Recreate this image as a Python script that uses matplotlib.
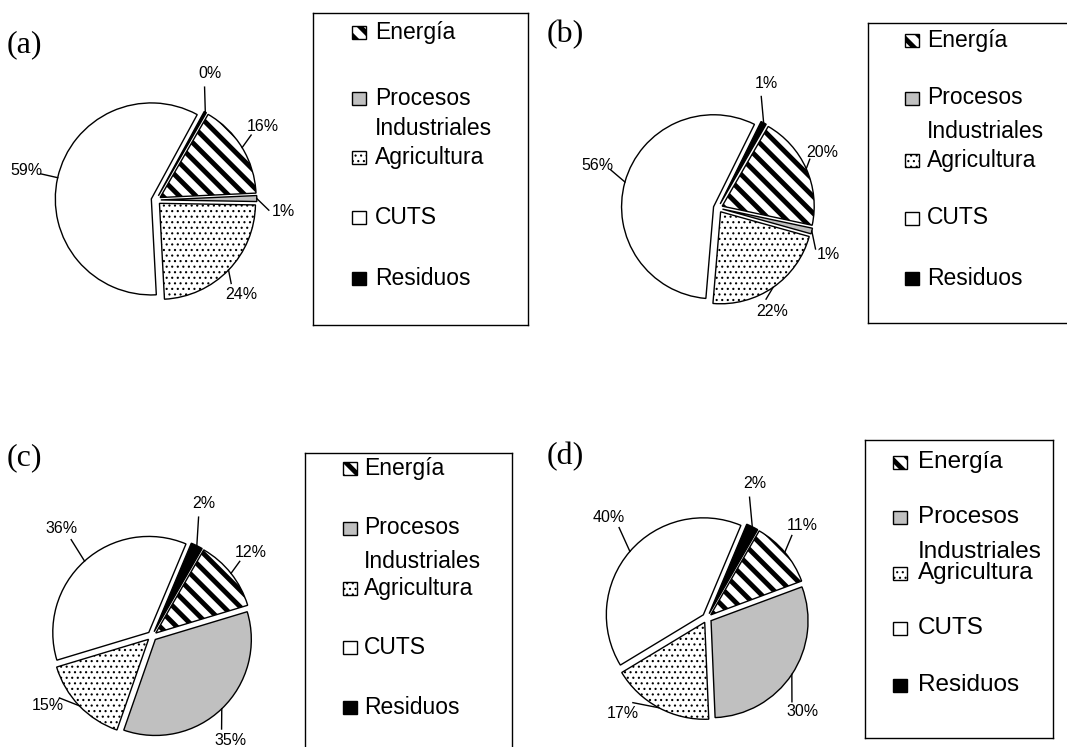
import matplotlib
matplotlib.use("Agg")
import matplotlib.pyplot as plt
import numpy as np
from matplotlib.patches import Rectangle

W, H = 1067, 747

# data: share of emissions by sector for each panel (a)-(d)
panels = ["(a)", "(b)", "(c)", "(d)"]
sectors = ["Energía", "Procesos\nIndustriales", "Agricultura", "CUTS", "Residuos"]
energia = [16, 20, 12, 11]
procesos = [1, 1, 35, 30]
agricultura = [24, 22, 15, 17]
cuts = [59, 56, 36, 40]
residuos = [0.4, 1, 2, 2]

# styles
fills = ["white", "#c0c0c0", "white", "white", "black"]
hatches = ["\\\\", None, "...", None, None]
hatch_lw = [3.5, 1.0, 0.8, 1.0, 1.0]

# layout (pixels): pie centre and radius, legend box, marker x, text x, item ys
pie_pos = [(156, 200, 96), (718, 208, 92), (152, 636, 96), (707, 618, 97)]
tag_pos = [(7, 45), (547, 35), (7, 458), (547, 457)]
leg_box = [(313, 13, 528, 325), (868, 23, 1090, 323),
           (305, 453, 512, 770), (865, 440, 1053, 738)]
leg_mx = [352, 905, 343, 893]
leg_tx = [375, 927, 364, 918]
leg_ys = [[32, 98, 128, 157, 217, 278], [40, 98, 132, 160, 218, 278],
          [468, 528, 562, 588, 647, 707], [462, 517, 552, 573, 628, 685]]
leg_fs = [16.5, 16.5, 16.5, 17.5]
# label placement: angle nudge (deg, clockwise) and radius per slice
lab_nudge = [[-3, 6, 4, 0, -6], [-4, 9, 7, 4, -7], [-2, 7, 10, 2, -5], [-4, 11, 13, 5, -7]]
lab_rad = [[1.35, 1.33, 1.32, 1.38, 1.43], [1.28, 1.3, 1.27, 1.39, 1.45],
           [1.35, 1.36, 1.31, 1.46, 1.48], [1.37, 1.38, 1.31, 1.45, 1.47]]

fig = plt.figure(figsize=(W / 100, H / 100), dpi=100)

start = 30  # degrees clockwise from north
explode = 0.05
L = 1.8

for i in range(4):
    vals = np.array([energia[i], procesos[i], agricultura[i], cuts[i], residuos[i]], dtype=float)
    cx, cy, R = pie_pos[i]
    half = L * R
    ax = fig.add_axes([(cx - half) / W, 1 - (cy + half) / H, 2 * half / W, 2 * half / H])
    wedges, _ = ax.pie(vals, startangle=90 - start, counterclock=False,
                       explode=[explode] * 5, colors=fills,
                       wedgeprops=dict(edgecolor="black", linewidth=1.0))
    ax.set_xlim(-L, L)
    ax.set_ylim(-L, L)
    ax.axis("off")
    for w, h, lw in zip(wedges, hatches, hatch_lw):
        if h:
            w.set_hatch(h)
            if hasattr(w, "set_hatch_linewidth"):
                w.set_hatch_linewidth(lw)
    pct = vals / vals.sum() * 100
    cum = start + np.concatenate([[0], np.cumsum(pct * 3.6)])
    for k in range(5):
        mid = (cum[k] + cum[k + 1]) / 2
        a_mid = np.radians(90 - mid)
        ex, ey = explode * np.cos(a_mid), explode * np.sin(a_mid)
        la = np.radians(90 - (mid + lab_nudge[i][k]))
        r = lab_rad[i][k]
        tx, ty = r * np.cos(la), r * np.sin(la)
        x0, y0 = ex + np.cos(a_mid), ey + np.sin(a_mid)
        x1, y1 = (r - 0.15) * np.cos(la), (r - 0.15) * np.sin(la)
        ax.plot([x0, x1], [y0, y1], color="black", lw=1.0)
        ax.text(tx, ty, f"{pct[k]:.0f}%", ha="center", va="center",
                fontsize=11.5, family="Liberation Sans")
    fig.text(tag_pos[i][0] / W, 1 - tag_pos[i][1] / H, panels[i], ha="left", va="center",
             fontsize=23, family="Liberation Serif")

# legend boxes
for i in range(4):
    l, t, r, b = leg_box[i]
    lax = fig.add_axes([l / W, 1 - b / H, (r - l) / W, (b - t) / H])
    lax.set_xlim(l, r)
    lax.set_ylim(b, t)
    lax.set_xticks([])
    lax.set_yticks([])
    for s in lax.spines.values():
        s.set_linewidth(1.0)
    ys = leg_ys[i]
    rows = [ys[0], ys[1], ys[3], ys[4], ys[5]]
    for k in range(5):
        sq = Rectangle((leg_mx[i], rows[k] - 6.5), 14, 13, facecolor=fills[k],
                       edgecolor="black", linewidth=1.0, hatch=hatches[k])
        if hatches[k] and hasattr(sq, "set_hatch_linewidth"):
            sq.set_hatch_linewidth(hatch_lw[k])
        lax.add_patch(sq)
    names = ["Energía", "Procesos", "Industriales", "Agricultura", "CUTS", "Residuos"]
    for name, y in zip(names, ys):
        lax.text(leg_tx[i], y, name, ha="left", va="center",
                 fontsize=leg_fs[i], family="Liberation Sans")

fig.savefig("out.png", dpi=100)
